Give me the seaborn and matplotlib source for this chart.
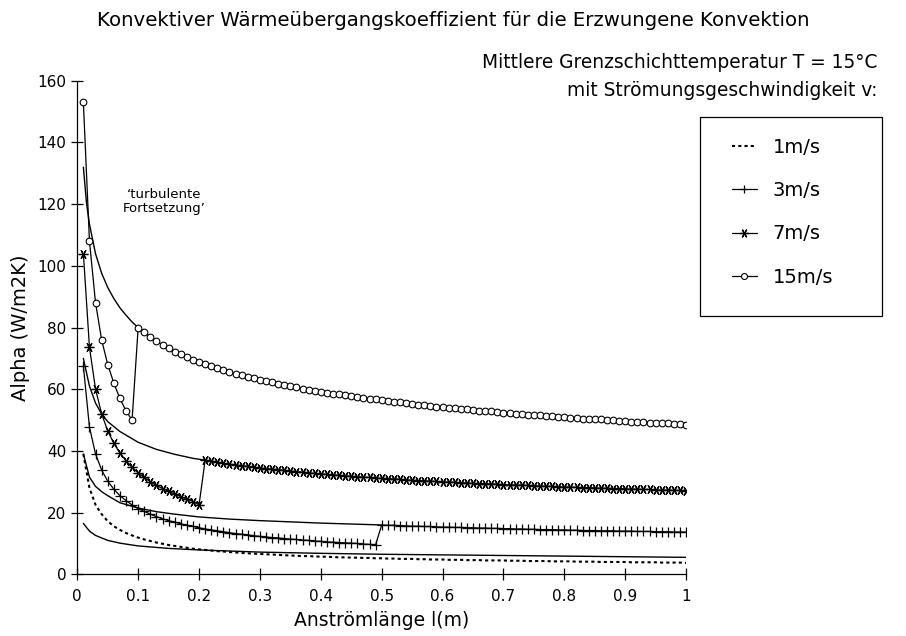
import numpy as np
import pandas as pd
import matplotlib
matplotlib.use("Agg")
import matplotlib.pyplot as plt
import seaborn as sns
from matplotlib.lines import Line2D
from matplotlib.patches import Rectangle

# --------------------------
# Data
# l in m, alpha in W/m2K; sample points are every 0.01 m as on the original
# --------------------------

labels = ["1m/s", "3m/s", "7m/s", "15m/s"]

# 1 m/s: laminar over the whole length
x_1_lam = np.round(np.arange(1, 101) / 100, 2)
a_1_lam = [39.0, 28.0, 22.5, 19.5, 17.2, 15.6, 14.4, 13.4, 12.6, 11.9,
           11.3, 10.8, 10.3, 9.9, 9.5, 9.2, 8.9, 8.6, 8.3, 8.1,
           7.9, 7.7, 7.5, 7.4, 7.2, 7.1, 6.9, 6.8, 6.7, 6.6,
           6.5, 6.4, 6.3, 6.2, 6.1, 6.0, 5.9, 5.9, 5.8, 5.7,
           5.7, 5.6, 5.5, 5.5, 5.4, 5.4, 5.3, 5.3, 5.2, 5.2,
           5.1, 5.1, 5.0, 5.0, 5.0, 4.9, 4.9, 4.8, 4.8, 4.8,
           4.7, 4.7, 4.7, 4.6, 4.6, 4.6, 4.5, 4.5, 4.5, 4.5,
           4.4, 4.4, 4.4, 4.3, 4.3, 4.3, 4.3, 4.2, 4.2, 4.2,
           4.2, 4.1, 4.1, 4.1, 4.1, 4.0, 4.0, 4.0, 4.0, 4.0,
           3.9, 3.9, 3.9, 3.9, 3.9, 3.8, 3.8, 3.8, 3.8, 3.7]

# 3 m/s: laminar up to 0.49 m, turbulent from 0.50 m
x_3_lam = np.round(np.arange(1, 50) / 100, 2)
a_3_lam = [67.5, 47.7, 39.0, 33.8, 30.2, 27.6, 25.5, 23.9, 22.5, 21.3,
           20.4, 19.5, 18.7, 18.0, 17.4, 16.9, 16.4, 15.9, 15.5, 15.1,
           14.7, 14.4, 14.1, 13.8, 13.5, 13.2, 13.0, 12.8, 12.5, 12.3,
           12.1, 11.9, 11.8, 11.6, 11.4, 11.3, 11.1, 11.0, 10.8, 10.7,
           10.5, 10.4, 10.3, 10.2, 10.1, 10.0, 9.8, 9.7, 9.6]
x_3_turb = np.round(np.arange(50, 101) / 100, 2)
a_3_turb = [16.0, 15.9, 15.9, 15.8, 15.7, 15.6, 15.6, 15.5, 15.5, 15.4,
            15.3, 15.3, 15.2, 15.2, 15.1, 15.1, 15.0, 15.0, 14.9, 14.9,
            14.8, 14.8, 14.7, 14.7, 14.6, 14.6, 14.5, 14.5, 14.5, 14.4,
            14.4, 14.3, 14.3, 14.2, 14.2, 14.2, 14.1, 14.1, 14.1, 14.0,
            14.0, 14.0, 13.9, 13.9, 13.9, 13.8, 13.8, 13.8, 13.7, 13.7,
            13.7]

# 7 m/s: laminar up to 0.20 m, turbulent from 0.21 m
x_7_lam = np.round(np.arange(1, 21) / 100, 2)
a_7_lam = [104.0, 73.6, 60.0, 52.0, 46.5, 42.5, 39.3, 36.8, 34.7, 32.9,
           31.4, 30.0, 28.8, 27.8, 26.9, 26.0, 25.2, 24.4, 23.6, 22.5]
x_7_turb = np.round(np.arange(21, 101) / 100, 2)
a_7_turb = [37.0, 36.7, 36.4, 36.0, 35.7, 35.5, 35.2, 35.0, 34.7, 34.5,
            34.3, 34.1, 33.9, 33.7, 33.5, 33.3, 33.1, 32.9, 32.7, 32.5,
            32.4, 32.2, 32.1, 31.9, 31.8, 31.6, 31.5, 31.4, 31.2, 31.1,
            31.0, 30.9, 30.8, 30.6, 30.5, 30.4, 30.3, 30.2, 30.1, 30.0,
            29.9, 29.8, 29.7, 29.6, 29.5, 29.4, 29.4, 29.3, 29.2, 29.1,
            29.0, 28.9, 28.9, 28.8, 28.7, 28.6, 28.6, 28.5, 28.4, 28.3,
            28.3, 28.2, 28.1, 28.1, 28.0, 27.9, 27.9, 27.8, 27.8, 27.7,
            27.6, 27.6, 27.5, 27.5, 27.4, 27.3, 27.3, 27.2, 27.2, 27.1]

# 15 m/s: laminar up to 0.09 m, turbulent from 0.10 m
x_15_lam = np.round(np.arange(1, 10) / 100, 2)
a_15_lam = [153.0, 108.0, 88.0, 76.0, 68.0, 62.0, 57.0, 53.0, 50.0]
x_15_turb = np.round(np.arange(10, 101) / 100, 2)
a_15_turb = [80.0, 78.4, 76.9, 75.6, 74.4, 73.3, 72.2, 71.3, 70.4, 69.6,
             68.8, 68.1, 67.4, 66.8, 66.2, 65.6, 65.0, 64.5, 64.0, 63.5,
             63.0, 62.6, 62.2, 61.7, 61.3, 61.0, 60.6, 60.2, 59.9, 59.5,
             59.2, 58.9, 58.6, 58.3, 58.0, 57.7, 57.4, 57.2, 56.9, 56.7,
             56.4, 56.2, 55.9, 55.7, 55.5, 55.3, 55.0, 54.8, 54.6, 54.4,
             54.2, 54.0, 53.8, 53.7, 53.5, 53.3, 53.1, 52.9, 52.8, 52.6,
             52.4, 52.3, 52.1, 52.0, 51.8, 51.7, 51.5, 51.4, 51.2, 51.1,
             51.0, 50.8, 50.7, 50.5, 50.4, 50.3, 50.2, 50.0, 49.9, 49.8,
             49.7, 49.5, 49.4, 49.3, 49.2, 49.1, 49.0, 48.9, 48.7, 48.6,
             48.5]

# 'turbulente Fortsetzung': plain solid lines without markers
x_1_cont = [0.01, 0.02, 0.03, 0.05, 0.07, 0.10, 0.15, 0.20, 0.30, 0.40,
            0.50, 0.60, 0.70, 0.80, 0.90, 1.00]
a_1_cont = [16.5, 14.0, 12.6, 11.0, 10.1, 9.2, 8.4, 7.9, 7.2, 6.8,
            6.5, 6.3, 6.1, 5.9, 5.7, 5.5]
x_3_cont = [0.01, 0.02, 0.03, 0.04, 0.05, 0.07, 0.10, 0.13, 0.16, 0.20,
            0.25, 0.30, 0.35, 0.40, 0.45, 0.50]
a_3_cont = [39.0, 31.5, 28.5, 26.8, 25.5, 23.2, 21.5, 20.3, 19.5, 18.6,
            17.9, 17.4, 17.0, 16.6, 16.3, 16.0]
x_7_cont = [0.01, 0.02, 0.03, 0.04, 0.05, 0.07, 0.10, 0.13, 0.16, 0.19, 0.21]
a_7_cont = [70.0, 61.0, 55.5, 52.0, 49.5, 46.3, 42.8, 40.5, 38.9, 37.6, 37.0]
x_15_cont = [0.01, 0.015, 0.02, 0.03, 0.04, 0.05, 0.06, 0.07, 0.08, 0.09, 0.10]
a_15_cont = [132.0, 120.7, 113.5, 103.9, 97.6, 93.0, 89.4, 86.4, 84.0, 81.8, 80.0]

x_ticks = [0, 0.1, 0.2, 0.3, 0.4, 0.5, 0.6, 0.7, 0.8, 0.9, 1]
x_ticklabels = ["0", "0.1", "0.2", "0.3", "0.4", "0.5", "0.6", "0.7", "0.8", "0.9", "1"]
y_ticks = [0, 20, 40, 60, 80, 100, 120, 140, 160]


def frame(xs, ys):
    return pd.DataFrame({"l": np.concatenate([np.asarray(x, float) for x in xs]),
                         "alpha": np.concatenate([np.asarray(y, float) for y in ys])})


# --------------------------
# Styles
# --------------------------
sns.set_style("ticks")
plt.rcParams["font.family"] = ["DejaVu Sans"]
plt.rcParams["text.color"] = "black"
plt.rcParams["axes.labelcolor"] = "black"

dotted_1 = dict(color="black", lw=1.5, linestyle=(0, (1.5, 1.5)))
style_3 = dict(color="black", lw=0.9, marker="+", markersize=7,
               markeredgecolor="black", markeredgewidth=0.9)
style_7 = dict(color="black", lw=0.9, marker=(6, 2, 30), markersize=7,
               markeredgecolor="black", markeredgewidth=0.9)
style_15 = dict(color="black", lw=0.9, marker="o", markersize=4.8, markerfacecolor="white",
                markeredgecolor="black", markeredgewidth=0.8)

fig = plt.figure(figsize=(9.06, 6.36), dpi=100)
ax = fig.add_axes([0.0853, 0.097, 0.672, 0.776])

common = dict(x="l", y="alpha", ax=ax, estimator=None, sort=False, legend=False)

# continuation lines
for xs, ys in [(x_1_cont, a_1_cont), (x_3_cont, a_3_cont),
               (x_7_cont, a_7_cont), (x_15_cont, a_15_cont)]:
    sns.lineplot(data=frame([xs], [ys]), color="black", lw=1.0, **common)

# marked series
sns.lineplot(data=frame([x_1_lam], [a_1_lam]), **dotted_1, **common)
sns.lineplot(data=frame([x_3_lam, x_3_turb], [a_3_lam, a_3_turb]), **style_3, **common)
sns.lineplot(data=frame([x_7_lam, x_7_turb], [a_7_lam, a_7_turb]), **style_7, **common)
sns.lineplot(data=frame([x_15_lam, x_15_turb], [a_15_lam, a_15_turb]), **style_15, **common)

ax.set_xlim(0, 1)
ax.set_ylim(0, 160)
ax.set_xticks(x_ticks)
ax.set_xticklabels(x_ticklabels)
ax.set_yticks(y_ticks)
ax.tick_params(direction="inout", length=9, width=0.9, labelsize=11, colors="black")
ax.tick_params(axis="x", pad=6)
sns.despine(ax=ax)
for side in ["left", "bottom"]:
    ax.spines[side].set_linewidth(0.9)
    ax.spines[side].set_color("black")

ax.set_xlabel("Anströmlänge l(m)", fontsize=13.5, labelpad=5)
ax.set_ylabel("Alpha (W/m2K)", fontsize=14, labelpad=5)

ax.text(0.143, 121, "\u2018turbulente\nFortsetzung\u2019", ha="center", va="center",
        fontsize=9.5, linespacing=1.1)

fig.text(0.5, 1 - 20 / 636, "Konvektiver Wärmeübergangskoeffizient für die Erzwungene Konvektion",
         ha="center", va="center", fontsize=14.2)
fig.text(877 / 906, 1 - 62 / 636, "Mittlere Grenzschichttemperatur T = 15°C",
         ha="right", va="center", fontsize=13.4)
fig.text(877 / 906, 1 - 90 / 636, "mit Strömungsgeschwindigkeit v:",
         ha="right", va="center", fontsize=13.4)

# legend box
fig.add_artist(Rectangle((700 / 906, 1 - 316 / 636), 182 / 906, 199 / 636,
                         transform=fig.transFigure, fill=False, edgecolor="black", lw=0.9))
handles = [Line2D([], [], **dotted_1),
           Line2D([], [], **style_3),
           Line2D([], [], **style_7),
           Line2D([], [], **style_15)]
fig.legend(handles, labels, loc="upper left", bbox_to_anchor=(722 / 906, 1 - 128 / 636),
           frameon=False, fontsize=14, handlelength=1.3, handletextpad=0.8,
           labelspacing=1.25, borderpad=0, markerscale=0.9)

fig.savefig("out.png", dpi=100)
